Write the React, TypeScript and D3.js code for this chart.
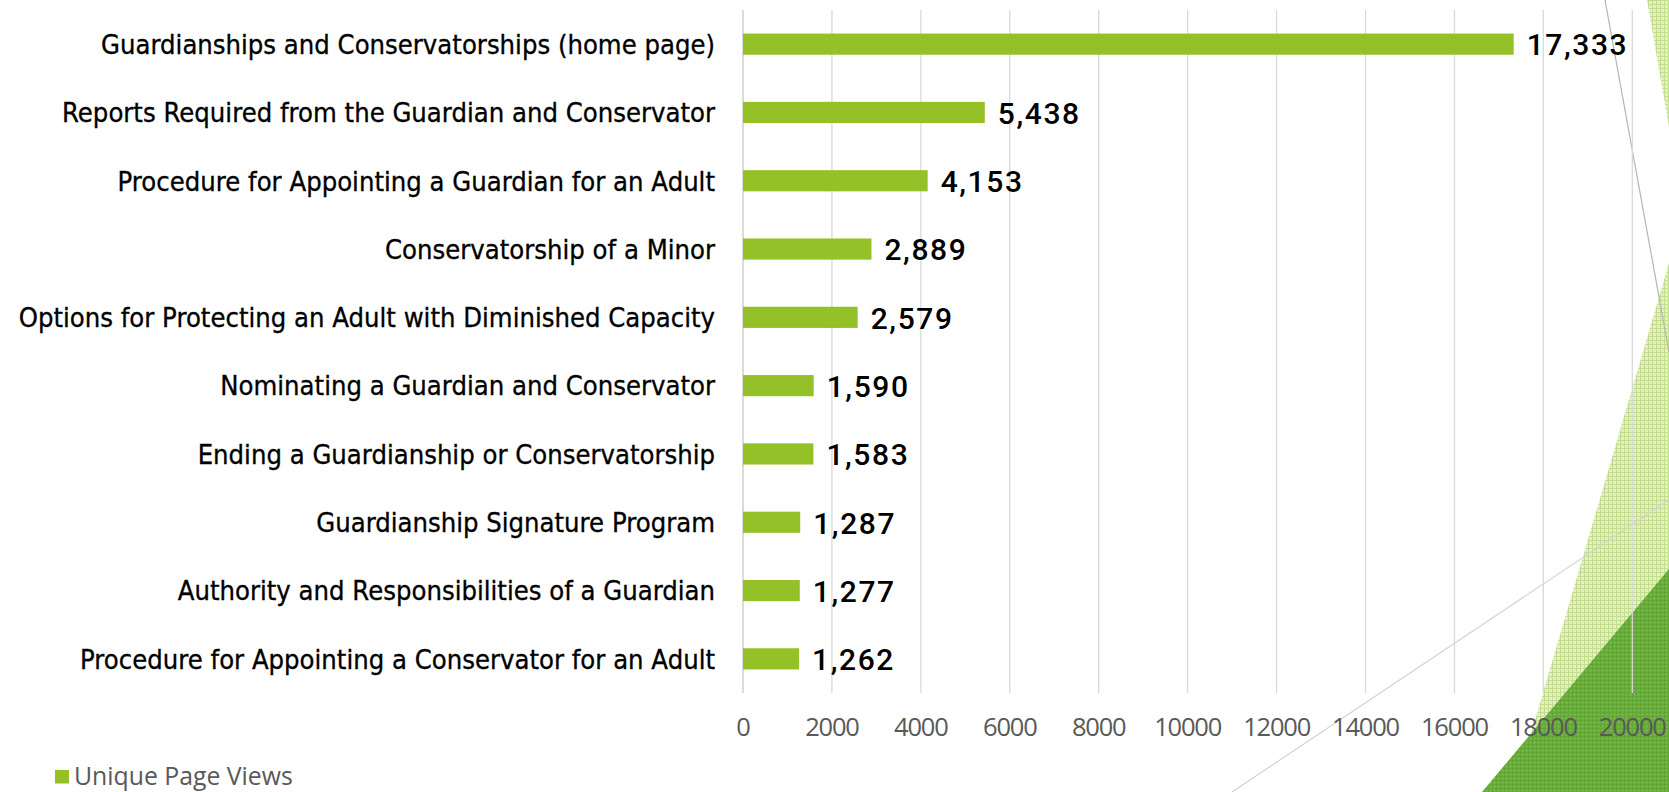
import React, { useEffect, useRef } from "react";
import * as d3 from "d3";

const categories = [
  "Guardianships and Conservatorships (home page)",
  "Reports Required from the Guardian and Conservator",
  "Procedure for Appointing a Guardian for an Adult",
  "Conservatorship of a Minor",
  "Options for Protecting an Adult with Diminished Capacity",
  "Nominating a Guardian and Conservator",
  "Ending a Guardianship or Conservatorship",
  "Guardianship Signature Program",
  "Authority and Responsibilities of a Guardian",
  "Procedure for Appointing a Conservator for an Adult",
];
const pageViews = [17333, 5438, 4153, 2889, 2579, 1590, 1583, 1287, 1277, 1262];
const xTicks = [0, 2000, 4000, 6000, 8000, 10000, 12000, 14000, 16000, 18000, 20000];
const seriesName = "Unique Page Views";

const W = 1669;
const H = 792;
const BAR = "#93c127";

// slide decoration in the bottom right corner (not data)
const lightShapes = [
  [[1647, 0], [1669, 0], [1669, 127]],
  [[1669, 263], [1514, 792], [1669, 792]],
];
const darkShape = [[1482, 792], [1669, 569], [1669, 792]];
const thinLines = [
  { p: [[1605, 0], [1669, 352]], c: "#b5b5b5" },
  { p: [[1232, 792], [1669, 500]], c: "#d3d3d3" },
];

export default function App() {
  const ref = useRef<SVGSVGElement>(null);

  useEffect(() => {
    const svg = d3.select(ref.current);
    svg.selectAll("*").remove();

    const defs = svg.append("defs");
    const light = defs
      .append("pattern")
      .attr("id", "lightHatch")
      .attr("width", 4)
      .attr("height", 4)
      .attr("patternUnits", "userSpaceOnUse");
    light.append("rect").attr("width", 4).attr("height", 4).attr("fill", "#e3efcb");
    light.append("rect").attr("width", 4).attr("height", 1).attr("fill", "#c2dd8e");
    light.append("rect").attr("width", 1).attr("height", 4).attr("fill", "#c2dd8e");

    const dark = defs
      .append("pattern")
      .attr("id", "darkHatch")
      .attr("width", 4)
      .attr("height", 4)
      .attr("patternUnits", "userSpaceOnUse");
    dark.append("rect").attr("width", 4).attr("height", 4).attr("fill", "#6cb13e");
    dark.append("rect").attr("width", 4).attr("height", 1).attr("fill", "#62a735");
    dark.append("rect").attr("width", 1).attr("height", 4).attr("fill", "#62a735");
    dark.append("rect").attr("x", 2).attr("y", 2).attr("width", 1).attr("height", 1).attr("fill", "#86c15c");

    const deco = svg.append("g").attr("class", "deco");
    const line = d3.line();
    lightShapes.forEach((s) => {
      deco.append("path").attr("d", line(s as [number, number][]) + "Z").attr("fill", "url(#lightHatch)");
    });
    deco.append("path").attr("d", line(darkShape as [number, number][]) + "Z").attr("fill", "url(#darkHatch)");
    thinLines.forEach((l) => {
      deco
        .append("path")
        .attr("d", line(l.p as [number, number][]))
        .attr("stroke", l.c)
        .attr("stroke-width", 1.2)
        .attr("fill", "none");
    });

    const x = d3.scaleLinear().domain([0, 20000]).range([743, 1632.3]);
    const y = d3
      .scaleBand<string>()
      .domain(categories)
      .range([10, 693])
      .paddingInner(0.69)
      .paddingOuter(0.345);

    // gridlines
    svg
      .append("g")
      .selectAll("line")
      .data(xTicks)
      .join("line")
      .attr("x1", (d) => x(d))
      .attr("x2", (d) => x(d))
      .attr("y1", 10)
      .attr("y2", 693)
      .attr("stroke", (d) => (d === 0 ? "#c8c8c8" : "#d9d9d9"))
      .attr("stroke-width", 1.3);

    // tick labels
    svg
      .append("g")
      .selectAll("text")
      .data(xTicks)
      .join("text")
      .attr("x", (d) => x(d))
      .attr("y", 735.5)
      .attr("text-anchor", "middle")
      .attr("font-family", "'Open Sans', sans-serif")
      .attr("font-size", 25.5)
      .attr("letter-spacing", -1.2)
      .attr("fill", "#595959")
      .text((d) => String(d));

    const data = categories.map((c, i) => ({ c, v: pageViews[i] }));

    svg
      .append("g")
      .selectAll("rect")
      .data(data)
      .join("rect")
      .attr("x", x(0))
      .attr("y", (d) => y(d.c) ?? 0)
      .attr("width", (d) => x(d.v) - x(0))
      .attr("height", y.bandwidth())
      .attr("fill", BAR);

    // category labels (narrowed DejaVu to look like Tahoma)
    svg
      .append("g")
      .selectAll("text")
      .data(data)
      .join("text")
      .attr(
        "transform",
        (d) => `translate(715,${(y(d.c) ?? 0) + y.bandwidth() / 2 + 9.8}) scale(0.892,1)`
      )
      .attr("text-anchor", "end")
      .attr("font-family", "'DejaVu Sans', sans-serif")
      .attr("font-size", 27.4)
      .attr("fill", "#000")
      .attr("stroke", "#000")
      .attr("stroke-width", 0.35)
      .text((d) => d.c);

    // value labels
    svg
      .append("g")
      .selectAll("text")
      .data(data)
      .join("text")
      .attr("x", (d) => x(d.v) + 13)
      .attr("y", (d) => (y(d.c) ?? 0) + y.bandwidth() / 2 + 11.3)
      .attr("font-family", "Roboto, sans-serif")
      .attr("font-size", 30)
      .attr("font-weight", 500)
      .attr("letter-spacing", 1.6)
      .attr("fill", "#000")
      .text((d) => d3.format(",")(d.v));

    // legend
    const legend = svg.append("g");
    legend.append("rect").attr("x", 55).attr("y", 770).attr("width", 14).attr("height", 13.5).attr("fill", BAR);
    legend
      .append("text")
      .attr("x", 74)
      .attr("y", 785)
      .attr("font-family", "'Open Sans', sans-serif")
      .attr("font-size", 24.8)
      .attr("fill", "#595959")
      .text(seriesName);
  }, []);

  return (
    <div style={{ position: "absolute", left: 0, top: 0 }}>
      <svg ref={ref} width={W} height={H} style={{ display: "block", background: "#fff" }} />
    </div>
  );
}
